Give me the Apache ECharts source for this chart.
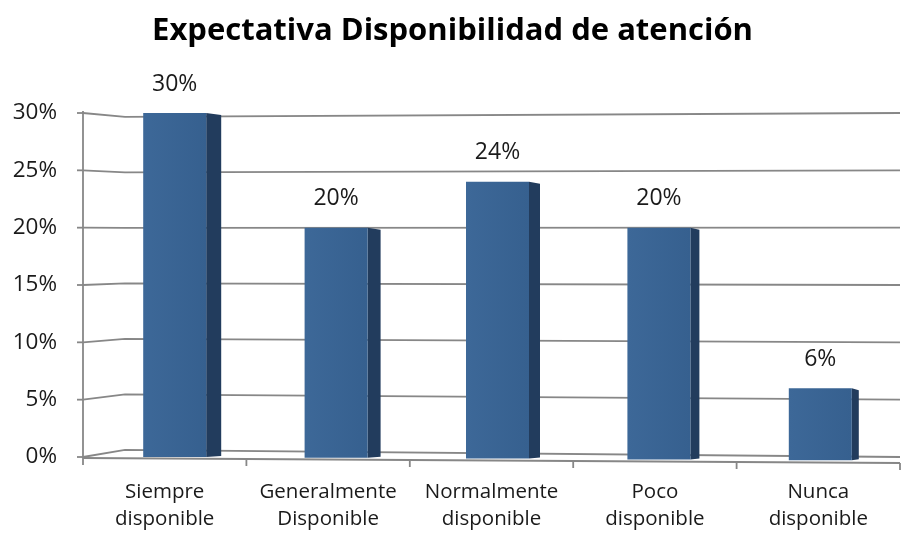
<!DOCTYPE html>
<html>
<head>
<meta charset="utf-8">
<script src="https://cdn.jsdelivr.net/npm/echarts@6/dist/echarts.min.js"></script>
<style>
  html, body { margin: 0; padding: 0; background: #fff; }
  #chart { width: 905px; height: 533px; }
</style>
</head>
<body>
<div id="chart"></div>
<script>
// Survey answers: expected availability of attention
const categories = [
  'Siempre\ndisponible',
  'Generalmente\nDisponible',
  'Normalmente\ndisponible',
  'Poco\ndisponible',
  'Nunca\ndisponible'
];
const shares = [0.30, 0.20, 0.24, 0.20, 0.06];
const axisTicks = [0, 0.05, 0.10, 0.15, 0.20, 0.25, 0.30];

const FONT = '"Open Sans", "Noto Sans", sans-serif';
const GRID_COLOR = '#878787';
const SIDE = '#223c5d';

const chart = echarts.init(document.getElementById('chart'));

// Walls and floor of the pseudo-3D frame, one polyline per axis tick
function renderWalls(params, api) {
  const cs = params.coordSys;
  const v = api.value(0);
  const yf = api.coord([0, v])[1];
  const depth = 42;
  const pivot = cs.y + cs.height * 0.36;
  const yb = pivot + (yf - pivot) * 0.968;
  const children = [{
    type: 'polyline',
    shape: { points: [[cs.x, yf], [cs.x + depth, yb], [cs.x + cs.width, yf]] },
    style: { stroke: GRID_COLOR, lineWidth: 1.8, fill: null }
  }, {
    type: 'line',
    shape: { x1: cs.x - 6, y1: yf, x2: cs.x, y2: yf },
    style: { stroke: GRID_COLOR, lineWidth: 1.8 }
  }];
  if (v === 0) {
    // front floor edge and category tick marks
    const yEnd = yf + 6;
    children.push({
      type: 'line',
      shape: { x1: cs.x, y1: yf + 1, x2: cs.x + cs.width, y2: yEnd },
      style: { stroke: GRID_COLOR, lineWidth: 1.8 }
    });
    const n = categories.length;
    for (let k = 0; k <= n; k++) {
      const x = cs.x + cs.width * k / n;
      const y = yf + 1 + (yEnd - yf - 1) * k / n;
      children.push({
        type: 'line',
        shape: { x1: x, y1: y, x2: x, y2: y + 7 },
        style: { stroke: GRID_COLOR, lineWidth: 1.8 }
      });
    }
    // left wall front edge
    const yTop = api.coord([0, axisTicks[axisTicks.length - 1]])[1];
    children.push({
      type: 'line',
      shape: { x1: cs.x, y1: yTop - 2, x2: cs.x, y2: yf + 1 },
      style: { stroke: GRID_COLOR, lineWidth: 1.8 }
    });
  }
  return { type: 'group', children };
}

// Bars: front face plus a darker side face, shifted by the perspective
function renderBar(params, api) {
  const i = api.value(0);
  const v = api.value(1);
  const top = api.coord([i, v]);
  const base = api.coord([i, 0]);
  const shift = 10 - 2 * i;
  const sideW = 15 - 2 * i;
  const w = 63;
  const cx = top[0] + shift;
  const x0 = cx - w / 2;
  const x1 = cx + w / 2;
  const yTop = top[1];
  const yBot = base[1] + i * 0.8;
  return {
    type: 'group',
    children: [{
      type: 'polygon',
      shape: { points: [[x1, yTop], [x1 + sideW, yTop + 2], [x1 + sideW, yBot - 1], [x1, yBot]] },
      style: { fill: SIDE }
    }, {
      type: 'rect',
      shape: { x: x0, y: yTop, width: w, height: yBot - yTop },
      style: {
        fill: new echarts.graphic.LinearGradient(0, 0, 1, 0, [
          { offset: 0, color: '#3d6898' },
          { offset: 1, color: '#36608f' }
        ])
      }
    }, {
      type: 'text',
      style: {
        x: cx, y: yTop - 29,
        text: Math.round(v * 100) + '%',
        align: 'center', verticalAlign: 'middle',
        font: '23px ' + FONT, fill: '#1a1a1a'
      }
    }]
  };
}

chart.setOption({
  animation: false,
  backgroundColor: '#ffffff',
  title: {
    text: 'Expectativa Disponibilidad de atención',
    left: 'center',
    top: 11,
    textStyle: { fontFamily: FONT, fontWeight: 'bold', fontSize: 31, color: '#000' }
  },
  grid: { left: 83, right: 5, top: 113, bottom: 68 },
  xAxis: {
    type: 'category',
    data: categories,
    axisLine: { show: false },
    axisTick: { show: false },
    axisLabel: {
      interval: 0,
      margin: 22,
      fontFamily: FONT, fontSize: 20.5, lineHeight: 27, color: '#1a1a1a'
    }
  },
  yAxis: {
    type: 'value',
    min: 0, max: 0.30, interval: 0.05,
    axisLine: { show: false },
    axisTick: { show: false },
    splitLine: { show: false },
    axisLabel: {
      margin: 26,
      fontFamily: FONT, fontSize: 22.5, color: '#1a1a1a',
      formatter: v => Math.round(v * 100) + '%'
    }
  },
  series: [{
    type: 'custom',
    name: 'walls',
    renderItem: renderWalls,
    data: axisTicks.map(v => [v]),
    encode: { y: 0 },
    z: 1,
    silent: true
  }, {
    type: 'custom',
    name: 'bars',
    renderItem: renderBar,
    data: shares.map((v, i) => [i, v]),
    encode: { x: 0, y: 1 },
    z: 2
  }]
});
</script>
</body>
</html>
